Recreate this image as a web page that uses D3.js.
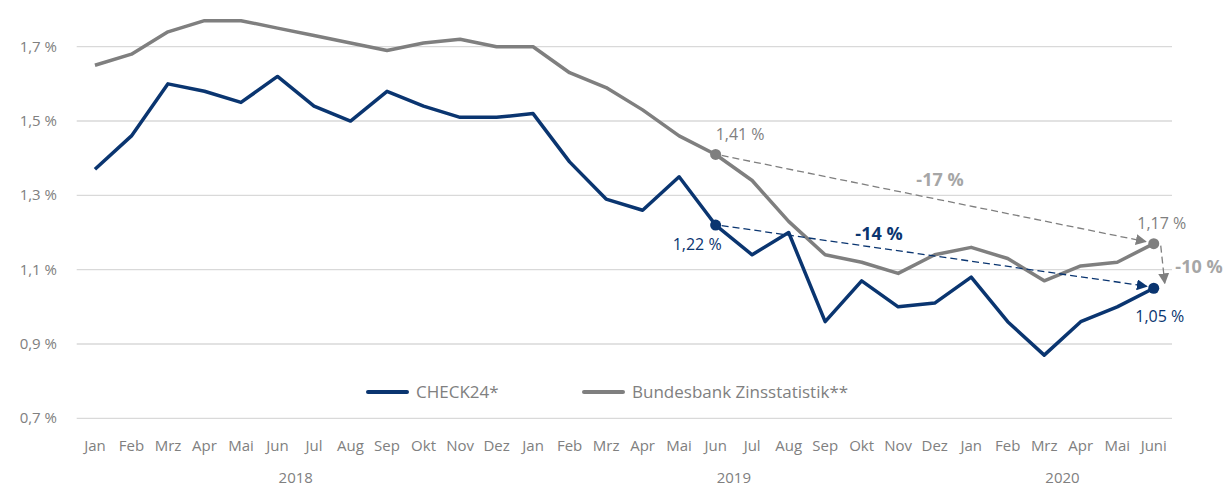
<!DOCTYPE html>
<meta charset="UTF-8">
<style>
body { margin: 0; background: #fff; }
svg { font-family: "Open Sans", "Noto Sans", sans-serif; }
.grid line { stroke: #d9d9d9; stroke-width: 1.3px; }
.axis text { fill: #808080; }
</style>
<body>
<script src="https://cdnjs.cloudflare.com/ajax/libs/d3/7.8.5/d3.min.js"></script>
<script>
// months Jan 2018 .. Juni 2020
const months = ["Jan","Feb","Mrz","Apr","Mai","Jun","Jul","Aug","Sep","Okt","Nov","Dez",
                "Jan","Feb","Mrz","Apr","Mai","Jun","Jul","Aug","Sep","Okt","Nov","Dez",
                "Jan","Feb","Mrz","Apr","Mai","Juni"];
const years = [{label: "2018", from: 0, to: 11}, {label: "2019", from: 12, to: 23}, {label: "2020", from: 24, to: 29}];

const check24 = [1.37,1.46,1.60,1.58,1.55,1.62,1.54,1.50,1.58,1.54,1.51,1.51,
                 1.52,1.39,1.29,1.26,1.35,1.22,1.14,1.20,0.96,1.07,1.00,1.01,
                 1.08,0.96,0.87,0.96,1.00,1.05];
const bundesbank = [1.65,1.68,1.74,1.77,1.77,1.75,1.73,1.71,1.69,1.71,1.72,1.70,
                    1.70,1.63,1.59,1.53,1.46,1.41,1.34,1.23,1.14,1.12,1.09,1.14,
                    1.16,1.13,1.07,1.11,1.12,1.17];
const yTicks = [0.7, 0.9, 1.1, 1.3, 1.5, 1.7];

const blue = "#0a3570", grey = "#7f7f7f", lightGrey = "#a6a6a6";
const width = 1224, height = 488;
const fmt = v => d3.format(".1f")(v).replace(".", ",") + " %";
const fmt2 = v => d3.format(".2f")(v).replace(".", ",") + " %";

const svg = d3.select("body").append("svg")
    .attr("width", width).attr("height", height);

const idx = d3.range(months.length);
const x = d3.scalePoint().domain(idx).range([76.7, 1172]).padding(0.5);
const y = d3.scaleLinear().domain([0.7, 1.7]).range([418.3, 46.7]);

// grid lines
svg.append("g").attr("class", "grid")
  .selectAll("line").data(yTicks).join("line")
    .attr("x1", 76.7).attr("x2", 1172)
    .attr("y1", d => y(d)).attr("y2", d => y(d));

// y axis labels
svg.append("g").attr("class", "axis")
  .selectAll("text").data(yTicks).join("text")
    .attr("x", 57).attr("y", d => y(d) + 5)
    .attr("text-anchor", "end").style("font-size", "15px")
    .text(fmt);

// x axis labels
svg.append("g").attr("class", "axis")
  .selectAll("text").data(idx).join("text")
    .attr("x", d => x(d)).attr("y", 451)
    .attr("text-anchor", "middle").style("font-size", "15px")
    .text(d => months[d]);

svg.append("g").attr("class", "axis")
  .selectAll("text").data(years).join("text")
    .attr("x", d => (x(d.from) + x(d.to)) / 2).attr("y", 483)
    .attr("text-anchor", "middle").style("font-size", "15px")
    .text(d => d.label);

// legend
const legend = svg.append("g");
[{name: "CHECK24*", color: blue, x0: 368}, {name: "Bundesbank Zinsstatistik**", color: grey, x0: 584}]
  .forEach(l => {
    legend.append("line").attr("x1", l.x0).attr("x2", l.x0 + 39)
      .attr("y1", 392).attr("y2", 392)
      .attr("stroke", l.color).attr("stroke-width", 4).attr("stroke-linecap", "round");
    legend.append("text").attr("x", l.x0 + 48).attr("y", 398)
      .attr("fill", "#808080").style("font-size", "17px").text(l.name);
  });

// lines
const line = d3.line().x((d, i) => x(i)).y(d => y(d));
svg.append("path").datum(bundesbank).attr("d", line)
  .attr("fill", "none").attr("stroke", grey).attr("stroke-width", 3.5).attr("stroke-linejoin", "round");
svg.append("path").datum(check24).attr("d", line)
  .attr("fill", "none").attr("stroke", blue).attr("stroke-width", 3.5).attr("stroke-linejoin", "round");

// arrow markers
const defs = svg.append("defs");
[["arrGrey", grey], ["arrBlue", blue]].forEach(([id, c]) => {
  defs.append("marker").attr("id", id).attr("viewBox", "0 0 10 10")
    .attr("refX", 9).attr("refY", 5).attr("markerWidth", 11).attr("markerHeight", 11)
    .attr("markerUnits", "userSpaceOnUse").attr("orient", "auto")
    .append("path").attr("d", "M0,0L10,5L0,10Z").attr("fill", c);
});

// annotations: Jun 2019 -> Juni 2020
const a = 17, b = 29;
function arrow(x1, y1, x2, y2, color, marker) {
  svg.append("line").attr("x1", x1).attr("y1", y1).attr("x2", x2).attr("y2", y2)
    .attr("stroke", color).attr("stroke-width", 1.3).attr("stroke-dasharray", "7,4")
    .attr("marker-end", `url(#${marker})`);
}
arrow(x(a) + 6, y(bundesbank[a]) + 1, x(b) - 8, y(bundesbank[b]) - 2, grey, "arrGrey");
arrow(x(a) + 6, y(check24[a]) + 0.5, x(b) - 7, y(check24[b]) - 2, blue, "arrBlue");
arrow(x(b) + 7, y(bundesbank[b]) + 2, x(b) + 11, y(check24[b]) - 5, grey, "arrGrey");

// points
[[bundesbank, grey], [check24, blue]].forEach(([s, c]) => {
  svg.selectAll(null).data([a, b]).join("circle")
    .attr("cx", d => x(d)).attr("cy", d => y(s[d])).attr("r", 5.5).attr("fill", c);
});

// value labels
const lbl = (tx, ty, anchor, color, size, weight, text) =>
  svg.append("text").attr("x", tx).attr("y", ty).attr("text-anchor", anchor)
    .attr("fill", color).style("font-size", size).style("font-weight", weight).text(text);

lbl(x(a), y(bundesbank[a]) - 14, "start", grey, "16px", 400, fmt2(bundesbank[a]));
lbl(x(a) + 6, y(check24[a]) + 25, "end", blue, "16px", 400, fmt2(check24[a]));
lbl(x(b) + 8, y(bundesbank[b]) - 15, "middle", grey, "16px", 400, fmt2(bundesbank[b]));
lbl(x(b) + 6, y(check24[b]) + 34, "middle", blue, "16px", 400, fmt2(check24[b]));

const pct = (u, v) => Math.round((v / u - 1) * 100) + " %";
lbl(940, y(1.33) + 2, "middle", lightGrey, "18px", 700, pct(bundesbank[a], bundesbank[b]));
lbl(879, y(1.20) + 7, "middle", blue, "18px", 700, pct(check24[a], check24[b]));
lbl(1199, y(1.10) + 3, "middle", lightGrey, "18px", 700, pct(bundesbank[b], check24[b]));
</script>
</body>
